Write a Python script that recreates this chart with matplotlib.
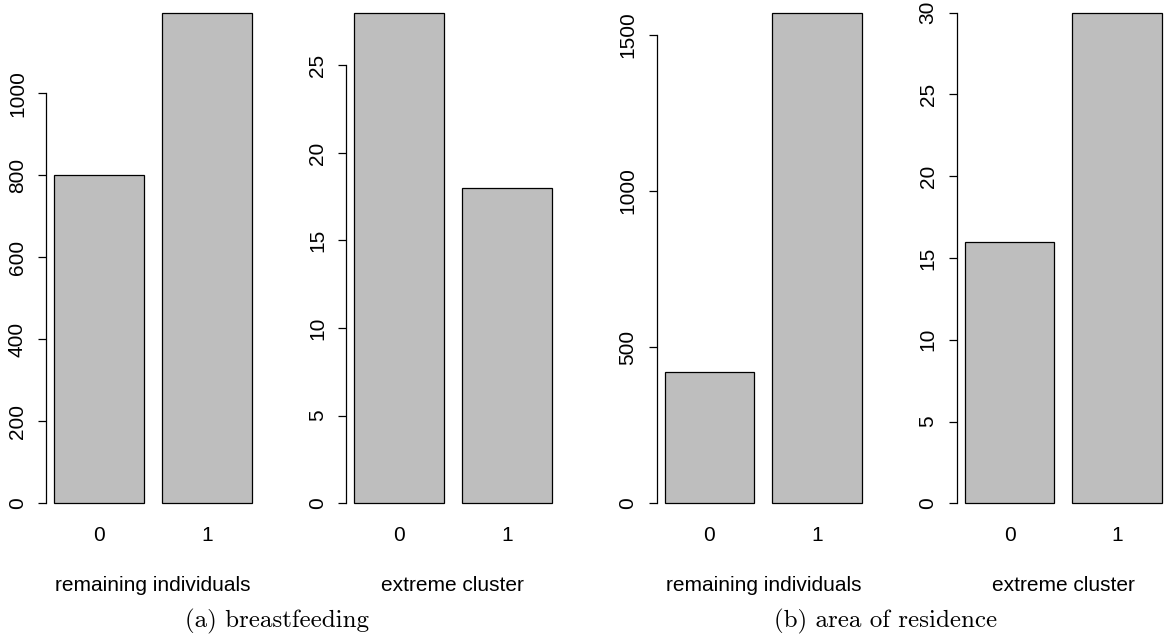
import numpy as np
import matplotlib.pyplot as plt

# counts per group (0 / 1)
groups = ['0', '1']
bf_remaining = [800, 1197]
bf_extreme   = [28, 18]
ar_remaining = [420, 1570]
ar_extreme   = [16, 30]

panel_titles = ['remaining individuals', 'extreme cluster',
                'remaining individuals', 'extreme cluster']
panel_ticks = [np.arange(0, 1001, 200), np.arange(0, 26, 5),
               np.arange(0, 1501, 500), np.arange(0, 31, 5)]
captions = ['(a) breastfeeding', '(b) area of residence']

W, H = 1165, 640
SANS = 'Liberation Sans'
FS = 15

fig = plt.figure(figsize=(W / 100, H / 100), dpi=100)

lefts = [46.1, 346.1, 656.6, 956.7]   # px
width = 213.5
bottom, top = 522.9, -6.9

data = [bf_remaining, bf_extreme, ar_remaining, ar_extreme]
centers = np.array([0.7, 1.9])

for i, vals in enumerate(data):
    ax = fig.add_axes([lefts[i] / W, 1 - bottom / H, width / W, (bottom - top) / H])
    m = max(vals)
    ax.bar(centers, vals, width=1.0, color='#BEBEBE', edgecolor='black', linewidth=0.9)
    ax.set_xlim(0.112, 2.488)
    ax.set_ylim(-0.04 * m, 1.04 * m)
    for s in ['top', 'right', 'bottom']:
        ax.spines[s].set_visible(False)
    ticks = panel_ticks[i]
    ax.spines['left'].set_bounds(0, ticks[-1])
    ax.spines['left'].set_linewidth(0.9)
    ax.set_yticks(ticks)
    ax.set_yticklabels([str(t) for t in ticks], rotation=90, va='center',
                       fontsize=FS, family=SANS)
    ax.tick_params(axis='y', length=5.8, width=0.9, pad=8)
    ax.set_xticks(centers)
    ax.set_xticklabels(groups, fontsize=FS, family=SANS)
    ax.tick_params(axis='x', length=0, pad=2)
    ax.patch.set_visible(False)
    cx = (lefts[i] + width / 2) / W
    fig.text(cx, 1 - 591 / H, panel_titles[i], ha='center', va='baseline',
             fontsize=FS, family=SANS)

fig.text(277 / W, 1 - 627 / H, captions[0], ha='center', va='baseline',
         fontsize=18, family='cmr10')
fig.text(886 / W, 1 - 627 / H, captions[1], ha='center', va='baseline',
         fontsize=18, family='cmr10')

fig.savefig('out.png', dpi=100)
